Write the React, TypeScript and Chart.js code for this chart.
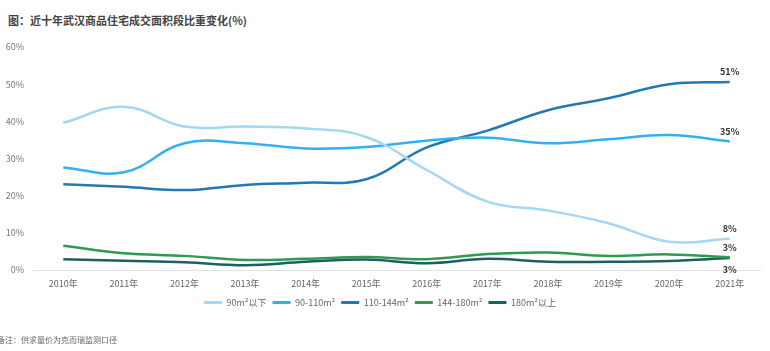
import React, { useEffect, useRef } from "react";
import { Chart, registerables } from "chart.js";

Chart.register(...registerables);

const years = ["2010年", "2011年", "2012年", "2013年", "2014年", "2015年", "2016年", "2017年", "2018年", "2019年", "2020年", "2021年"];
const seriesNames = ["90m²以下", "90-110m²", "110-144m²", "144-180m²", "180m²以上"];
const below90 = [39.6, 43.9, 38.6, 38.6, 38.1, 35.8, 26.9, 18.4, 16.0, 12.6, 7.6, 8.4];
const s90to110 = [27.6, 26.3, 34.1, 34.1, 32.7, 33.1, 34.8, 35.6, 34.1, 35.2, 36.3, 34.6];
const s110to144 = [23.1, 22.4, 21.5, 22.9, 23.5, 24.4, 33.0, 37.5, 43.0, 46.2, 50.0, 50.6];
const s144to180 = [6.5, 4.5, 3.8, 2.7, 3.0, 3.5, 2.9, 4.3, 4.7, 3.8, 4.2, 3.4];
const above180 = [2.9, 2.5, 2.1, 1.3, 2.2, 2.8, 1.8, 3.0, 2.2, 2.2, 2.4, 3.2];
const yTicks = [0, 10, 20, 30, 40, 50, 60];

const colors = ["#a3d7f3", "#36aff0", "#2378b2", "#2f9a52", "#1d5f63"];
const FONT = '"Noto Sans CJK SC", "Noto Sans", sans-serif';

const endLabelPlugin = {
  id: "endLabels",
  afterDatasetsDraw(chart: any) {
    const ctx = chart.ctx;
    chart.data.datasets.forEach((ds: any, i: number) => {
      const meta = chart.getDatasetMeta(i);
      const pt = meta.data[meta.data.length - 1];
      const v = ds.data[ds.data.length - 1];
      const below = i === 4;
      ctx.save();
      ctx.font = `bold 9px ${FONT}`;
      ctx.fillStyle = "#333";
      ctx.textAlign = "center";
      ctx.textBaseline = "middle";
      ctx.fillText(Math.round(v) + "%", pt.x, pt.y + (below ? 11 : -10));
      ctx.restore();
    });
  },
};

export default function App() {
  const ref = useRef<HTMLCanvasElement | null>(null);

  useEffect(() => {
    if (!ref.current) return;
    const data = [below90, s90to110, s110to144, s144to180, above180];
    const chart = new Chart(ref.current, {
      type: "line",
      data: {
        labels: years,
        datasets: data.map((d, i) => ({
          label: seriesNames[i],
          data: d,
          borderColor: colors[i],
          backgroundColor: colors[i],
          borderWidth: 2.5,
          pointRadius: 0,
          tension: 0.4,
          fill: false,
        })),
      },
      options: {
        animation: false,
        responsive: false,
        devicePixelRatio: 1,
        layout: { padding: { top: 47, right: 10, left: 0, bottom: 34 } },
        scales: {
          x: {
            offset: true,
            grid: { display: false, drawTicks: false },
            border: { display: true, color: "#e3e3e3", width: 1 },
            ticks: { font: { size: 9, family: FONT }, color: "#666", padding: 8, maxRotation: 0, autoSkip: false },
            afterFit: (s: any) => { s.height = 22; },
          },
          y: {
            min: 0,
            max: 60,
            grid: { display: false, drawTicks: false },
            border: { display: false },
            afterBuildTicks: (s: any) => { s.ticks = yTicks.map((v) => ({ value: v })); },
            ticks: { font: { size: 9, family: FONT }, color: "#777", padding: 9, callback: (v: any) => v + "%" },
            afterFit: (s: any) => { s.width = 33; },
          },
        },
        plugins: {
          legend: {
            position: "bottom",
            labels: {
              boxWidth: 18,
              boxHeight: 3,
              padding: 6,
              color: "#666",
              font: { size: 9, family: FONT },
              generateLabels: (c: any) =>
                Chart.defaults.plugins.legend.labels.generateLabels(c).map((l: any) => ({
                  ...l,
                  lineWidth: 0,
                  fillStyle: colors[l.datasetIndex],
                  strokeStyle: colors[l.datasetIndex],
                })),
            },
          },
          tooltip: { enabled: false },
        },
      },
      plugins: [endLabelPlugin],
    } as any);
    return () => chart.destroy();
  }, []);

  return (
    <div style={{ position: "fixed", left: 0, top: 0, width: 770, height: 351, background: "#fff", overflow: "hidden" }}>
      <div style={{ position: "absolute", left: 8, top: 12, fontFamily: FONT, fontWeight: "bold", fontSize: 11, color: "#444", lineHeight: "16px", whiteSpace: "nowrap" }}>
        图：近十年武汉商品住宅成交面积段比重变化(%)
      </div>
      <canvas ref={ref} width={770} height={351} style={{ position: "absolute", left: 0, top: 0, width: 770, height: 351 }} />
      <div style={{ position: "absolute", left: -3, top: 334, fontFamily: FONT, fontSize: 8, color: "#666", lineHeight: "12px", whiteSpace: "nowrap" }}>
        备注：供求量价为克而瑞监测口径
      </div>
    </div>
  );
}
